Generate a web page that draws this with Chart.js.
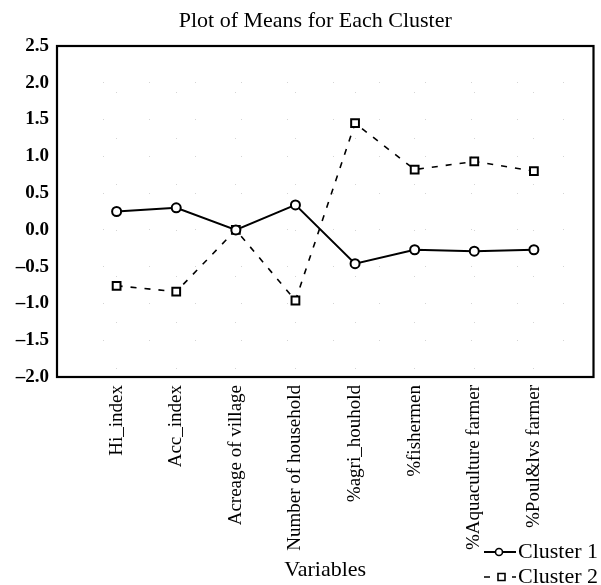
<!DOCTYPE html>
<html>
<head>
<meta charset="utf-8">
<title>Plot of Means for Each Cluster</title>
<script src="https://cdn.jsdelivr.net/npm/chart.js@4.4.1/dist/chart.umd.min.js"></script>
<style>
    html, body { margin: 0; padding: 0; background: #fff; }
    #wrap { width: 601px; height: 585px; }
</style>
</head>
<body>
<div id="wrap"><canvas id="means-chart"></canvas></div>
<script>
// Data
const variables = ['Hi_index', 'Acc_index', 'Acreage of village', 'Number of household',
    '%agri_houhold', '%fishermen', '%Aquaculture farmer', '%Poul&lvs farmer'];
const cluster1 = [0.25, 0.30, 0.00, 0.34, -0.46, -0.27, -0.29, -0.27];
const cluster2 = [-0.76, -0.84, 0.00, -0.96, 1.45, 0.82, 0.93, 0.80];
const yTicks = [-2.0, -1.5, -1.0, -0.5, 0.0, 0.5, 1.0, 1.5, 2.0, 2.5];

const SERIF = "'Liberation Serif', 'Times New Roman', serif";

// points sit at 1..8 on a 0..9 axis, like the original
function toPoints(values) {
    return values.map((v, i) => ({ x: i + 1, y: v }));
}

// Frame, title and legend drawn on top of the chart
const decorPlugin = {
    id: 'decor',
    afterDraw(chart) {
        const { ctx, chartArea } = chart;
        ctx.save();

        // box around plot
        ctx.strokeStyle = '#000';
        ctx.lineWidth = 2.2;
        ctx.strokeRect(chartArea.left, chartArea.top, chartArea.right - chartArea.left, chartArea.bottom - chartArea.top);

        // title
        ctx.fillStyle = '#000';
        ctx.font = `22px ${SERIF}`;
        ctx.textAlign = 'center';
        ctx.textBaseline = 'middle';
        ctx.fillText('Plot of Means for Each Cluster', (chartArea.left + chartArea.right) / 2 - 10, 21);

        // legend, bottom right
        const rows = [552, 577];
        chart.data.datasets.forEach((ds, i) => {
            const y = rows[i];
            ctx.strokeStyle = '#000';
            ctx.lineWidth = ds.borderWidth;
            ctx.setLineDash(ds.borderDash || []);
            ctx.beginPath();
            ctx.moveTo(484, y);
            ctx.lineTo(516, y);
            ctx.stroke();
            ctx.setLineDash([]);
            ctx.fillStyle = '#fff';
            ctx.lineWidth = 1.6;
            ctx.beginPath();
            if (ds.pointStyle === 'rect') {
                ctx.rect(498, y - 3.5, 7, 7);
            } else {
                ctx.arc(499, y, 3.5, 0, Math.PI * 2);
            }
            ctx.fill();
            ctx.stroke();

            ctx.fillStyle = '#000';
            ctx.font = `22px ${SERIF}`;
            ctx.textAlign = 'left';
            ctx.textBaseline = 'middle';
            ctx.fillText(ds.label, 518, y);
        });

        ctx.restore();
    }
};

const config = {
    type: 'line',
    data: {
        datasets: [
            {
                label: 'Cluster 1',
                data: toPoints(cluster1),
                order: 0,
                borderColor: '#000',
                borderWidth: 2,
                pointStyle: 'circle',
                pointRadius: 4.5,
                pointBackgroundColor: '#fff',
                pointBorderColor: '#000',
                pointBorderWidth: 2,
                tension: 0
            },
            {
                label: 'Cluster 2',
                data: toPoints(cluster2),
                order: 1,
                borderColor: '#000',
                borderWidth: 1.6,
                borderDash: [6, 8],
                pointStyle: 'rect',
                pointRadius: 5.5,
                pointBackgroundColor: '#fff',
                pointBorderColor: '#000',
                pointBorderWidth: 2,
                tension: 0
            }
        ]
    },
    options: {
        responsive: true,
        maintainAspectRatio: false,
        animation: false,
        layout: { padding: { top: 46, right: 3, bottom: 0, left: 0 } },
        plugins: {
            legend: { display: false },
            title: { display: false },
            tooltip: { enabled: false }
        },
        scales: {
            x: {
                type: 'linear',
                min: 0,
                max: variables.length + 1,
                afterBuildTicks: (axis) => {
                    axis.ticks = variables.map((_, i) => ({ value: i + 1 }));
                },
                afterFit: (axis) => { axis.height = 208; },
                grid: {
                    color: '#d4d4d4',
                    lineWidth: 1,
                    drawTicks: false
                },
                border: { display: false, dash: [1, 45] },
                ticks: {
                    autoSkip: false,
                    minRotation: 90,
                    maxRotation: 90,
                    padding: 8,
                    color: '#000',
                    font: { family: SERIF, size: 19 },
                    callback: (v) => variables[v - 1] || ''
                },
                title: {
                    display: true,
                    text: 'Variables',
                    color: '#000',
                    font: { family: SERIF, size: 22 },
                    padding: { top: 0, bottom: 2 }
                }
            },
            y: {
                min: yTicks[0],
                max: yTicks[yTicks.length - 1],
                afterBuildTicks: (axis) => {
                    axis.ticks = yTicks.map(v => ({ value: v }));
                },
                afterFit: (axis) => { axis.width = 57; },
                grid: {
                    color: '#d4d4d4',
                    lineWidth: 1,
                    drawTicks: false
                },
                border: { display: false, dash: [1, 45] },
                ticks: {
                    padding: 8,
                    color: '#000',
                    font: { family: SERIF, size: 19, weight: 'bold' },
                    callback: (v) => (v < 0 ? '\u2013' : '') + Math.abs(v).toFixed(1)
                }
            }
        }
    },
    plugins: [decorPlugin]
};

const ctx = document.getElementById('means-chart');
new Chart(ctx, config);
</script>
</body>
</html>
